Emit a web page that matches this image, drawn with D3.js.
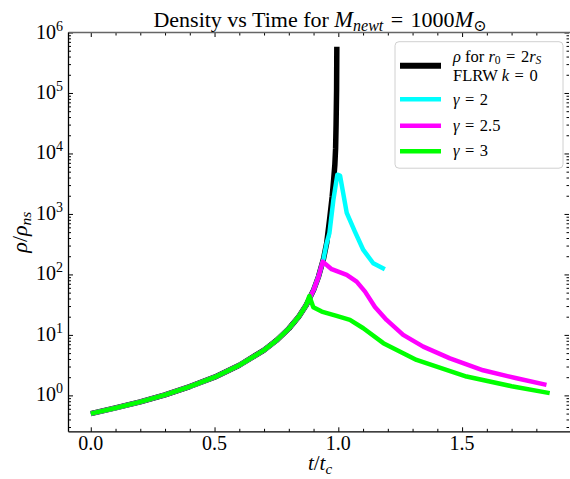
<!DOCTYPE html>
<html>
<head>
<meta charset="utf-8">
<script src="https://cdn.jsdelivr.net/npm/d3@7"></script>
<style>
    body { margin: 0; background: #fff; }
    text { font-family: "Liberation Serif", "DejaVu Serif", serif; fill: #000; }
</style>
</head>
<body>
<svg id="chart" width="570" height="479"></svg>
<script>
// ---- data ----
// FLRW k=0 curve (rho / rho_ns against t / t_c)
const tBlack   = [0, 0.1, 0.2, 0.3, 0.4, 0.5, 0.6, 0.7, 0.75, 0.8, 0.84, 0.87, 0.9, 0.92, 0.94, 0.953, 0.966, 0.975, 0.981, 0.986, 0.989, 0.991, 0.993, 0.994];
const rhoBlack = [0.5, 0.62, 0.78, 1.02, 1.4, 2.0, 3.15, 5.6, 8.1, 12.7, 20, 31, 55, 92, 180, 330, 900, 1900, 3600, 6500, 12000, 30000, 110000, 580000];

// gamma runs follow the FLRW curve up to their bounce, then these tails
const cutGamma2 = 0.953;
const tGamma2   = [0.964, 0.98, 0.996, 1.007, 1.034, 1.067, 1.101, 1.141, 1.188];
const rhoGamma2 = [480, 1700, 4450, 4300, 1040, 510, 254, 153, 122];

const cutGamma25 = 0.92;
const tGamma25   = [0.937, 0.973, 1.034, 1.074, 1.108, 1.148, 1.195, 1.262, 1.343, 1.451, 1.585, 1.72, 1.841];
const rhoGamma25 = [163, 122, 98, 76, 52, 29, 17.7, 10, 6.4, 4.1, 2.6, 1.92, 1.49];

const cutGamma3 = 0.87;
const tGamma3   = [0.883, 0.899, 0.933, 0.993, 1.047, 1.101, 1.182, 1.316, 1.518, 1.7, 1.854];
const rhoGamma3 = [44, 28.7, 24.3, 20.6, 17.7, 12.9, 7.3, 3.86, 2.05, 1.42, 1.09];

const xTickLabels = ["0.0", "0.5", "1.0", "1.5"];
const xTickValues = [0, 0.5, 1.0, 1.5];
const yTickExps = [0, 1, 2, 3, 4, 5, 6];

const svg = d3.select("#chart");

const pLeft = 68.5, pRight = 571, pTop = 32.5, pBottom = 431.8;

let x = d3.scaleLinear().domain([-0.09, 1.94]).range([pLeft, pRight]);
let y = d3.scaleLog().domain([0.25, 1e6]).range([pBottom, pTop]);

function series(cut, ts, rs) {
    let pts = [];
    tBlack.forEach((t, i) => { if (t <= cut) pts.push([t, rhoBlack[i]]); });
    ts.forEach((t, i) => pts.push([t, rs[i]]));
    return pts;
}

const black = tBlack.map((t, i) => [t, rhoBlack[i]]);
const lines = [
    {pts: black, color: "#000000", w: 5.5},
    {pts: series(cutGamma2, tGamma2, rhoGamma2), color: "#00ffff", w: 4.5},
    {pts: series(cutGamma25, tGamma25, rhoGamma25), color: "#ff00ff", w: 4.5},
    {pts: series(cutGamma3, tGamma3, rhoGamma3), color: "#00ff00", w: 4.5}
];

svg.append("defs").append("clipPath").attr("id", "clip")
    .append("rect").attr("x", pLeft).attr("y", pTop)
    .attr("width", pRight - pLeft).attr("height", pBottom - pTop);

let line = d3.line().x(d => x(d[0])).y(d => y(d[1]));

svg.append("g").attr("clip-path", "url(#clip)")
    .selectAll("path").data(lines).enter().append("path")
    .attr("d", d => line(d.pts))
    .attr("fill", "none")
    .attr("stroke", d => d.color)
    .attr("stroke-width", d => d.w)
    .attr("stroke-linejoin", "round");

// ---- axes (ticks point inward on all four sides) ----
let yMinor = [];
for (let e = -1; e <= 5; e++) {
    for (let k = 2; k <= 9; k++) {
        let v = k * Math.pow(10, e);
        if (v >= 0.25 && v <= 1e6) yMinor.push(v);
    }
}
let xMinor = d3.range(0, 19).map(i => i / 10).filter(v => xTickValues.indexOf(v) < 0);

function axisGroup(axis, tx, ty) {
    let g = svg.append("g").attr("transform", "translate(" + tx + "," + ty + ")").call(axis);
    g.select(".domain").remove();
    g.selectAll(".tick text").remove();
    g.selectAll(".tick line").attr("stroke", "#000").attr("stroke-width", 1);
    return g;
}

axisGroup(d3.axisLeft(y).tickValues(yTickExps.map(e => Math.pow(10, e))).tickSize(-4.5), pLeft, 0);
axisGroup(d3.axisLeft(y).tickValues(yMinor).tickSize(-2.5), pLeft, 0);
axisGroup(d3.axisRight(y).tickValues(yTickExps.map(e => Math.pow(10, e))).tickSize(-4.5), 569, 0);
axisGroup(d3.axisRight(y).tickValues(yMinor).tickSize(-2.5), 569, 0);
axisGroup(d3.axisBottom(x).tickValues(xTickValues).tickSize(-4.5), 0, pBottom);
axisGroup(d3.axisBottom(x).tickValues(xMinor).tickSize(-3), 0, pBottom);
axisGroup(d3.axisTop(x).tickValues(xTickValues).tickSize(-4.5), 0, pTop);
axisGroup(d3.axisTop(x).tickValues(xMinor).tickSize(-3), 0, pTop);

// spines
svg.append("line").attr("x1", pLeft).attr("x2", pRight).attr("y1", pTop).attr("y2", pTop)
    .attr("stroke", "#666").attr("stroke-width", 1.5);
svg.append("line").attr("x1", pLeft).attr("x2", pLeft).attr("y1", pTop).attr("y2", pBottom)
    .attr("stroke", "#000").attr("stroke-width", 1.3);
svg.append("line").attr("x1", pLeft).attr("x2", pRight).attr("y1", pBottom).attr("y2", pBottom)
    .attr("stroke", "#000").attr("stroke-width", 1.3);

// tick labels
svg.selectAll(".xlab").data(xTickValues).enter().append("text")
    .attr("x", d => x(d)).attr("y", pBottom + 18.5)
    .attr("text-anchor", "middle").attr("font-size", 20)
    .text((d, i) => xTickLabels[i]);

let ylab = svg.selectAll(".ylab").data(yTickExps).enter().append("text")
    .attr("x", 63).attr("y", d => y(Math.pow(10, d)) + 6)
    .attr("text-anchor", "end").attr("font-size", 20);
ylab.append("tspan").text("10");
ylab.append("tspan").attr("dy", -8).attr("font-size", 14).text(d => d);

// axis titles
let xt = svg.append("text").attr("x", 320).attr("y", 470)
    .attr("text-anchor", "middle").attr("font-size", 21);
xt.append("tspan").attr("font-style", "italic").text("t");
xt.append("tspan").text("/");
xt.append("tspan").attr("font-style", "italic").text("t");
xt.append("tspan").attr("font-style", "italic").attr("font-size", 15).attr("dy", 4).text("c");

let yt = svg.append("text").attr("transform", "translate(27," + ((pTop + pBottom) / 2) + ") rotate(-90)")
    .attr("text-anchor", "middle").attr("font-size", 22);
yt.append("tspan").attr("font-style", "italic").text("ρ");
yt.append("tspan").text("/");
yt.append("tspan").attr("font-style", "italic").text("ρ");
yt.append("tspan").attr("font-style", "italic").attr("font-size", 15.5).attr("dy", 4).text("ns");

// title
let title = svg.append("text").attr("x", 320).attr("y", 26.5)
    .attr("text-anchor", "middle").attr("font-size", 22);
title.append("tspan").text("Density vs Time for ");
title.append("tspan").attr("font-style", "italic").attr("font-size", 22.5).text("M");
title.append("tspan").attr("font-style", "italic").attr("font-size", 16).attr("dy", 4).text("newt");
title.append("tspan").attr("dy", -4).text("\u2004=\u20041000");
title.append("tspan").attr("font-style", "italic").attr("font-size", 22.5).text("M");
title.append("tspan").attr("font-size", 16).attr("dy", 4).text("⊙");

// ---- legend ----
svg.append("rect").attr("x", 395).attr("y", 41.7).attr("width", 168).attr("height", 126.5)
    .attr("rx", 4).attr("fill", "#fff").attr("fill-opacity", 0.85)
    .attr("stroke", "#d0d0d0").attr("stroke-width", 1);

const legendY = [65.7, 99.3, 125.7, 151.3];
lines.forEach((d, i) => {
    svg.append("line").attr("x1", 400).attr("x2", 441)
        .attr("y1", legendY[i]).attr("y2", legendY[i])
        .attr("stroke", d.color).attr("stroke-width", i === 0 ? 6 : 4.5);
});

const eq = "\u2004=\u2004";
let l1 = svg.append("text").attr("x", 453).attr("y", 61.5).attr("font-size", 16.5);
l1.append("tspan").attr("font-style", "italic").text("ρ");
l1.append("tspan").text(" for ");
l1.append("tspan").attr("font-style", "italic").text("r");
l1.append("tspan").attr("font-size", 11.5).attr("dy", 2.5).text("0");
l1.append("tspan").attr("dy", -2.5).text(eq + "2");
l1.append("tspan").attr("font-style", "italic").text("r");
l1.append("tspan").attr("font-style", "italic").attr("font-size", 11.5).attr("dy", 2.5).text("S");

let l2 = svg.append("text").attr("x", 453).attr("y", 80.5).attr("font-size", 16.5);
l2.append("tspan").text("FLRW ");
l2.append("tspan").attr("font-style", "italic").text("k");
l2.append("tspan").text(eq + "0");

const gammaLabels = ["2", "2.5", "3"];
const gammaBase = [104.5, 130.5, 156];
gammaLabels.forEach((g, i) => {
    let t = svg.append("text").attr("x", 453).attr("y", gammaBase[i]).attr("font-size", 16.5);
    t.append("tspan").attr("font-style", "italic").text("γ");
    t.append("tspan").text(eq + g);
});
</script>
</body>
</html>
